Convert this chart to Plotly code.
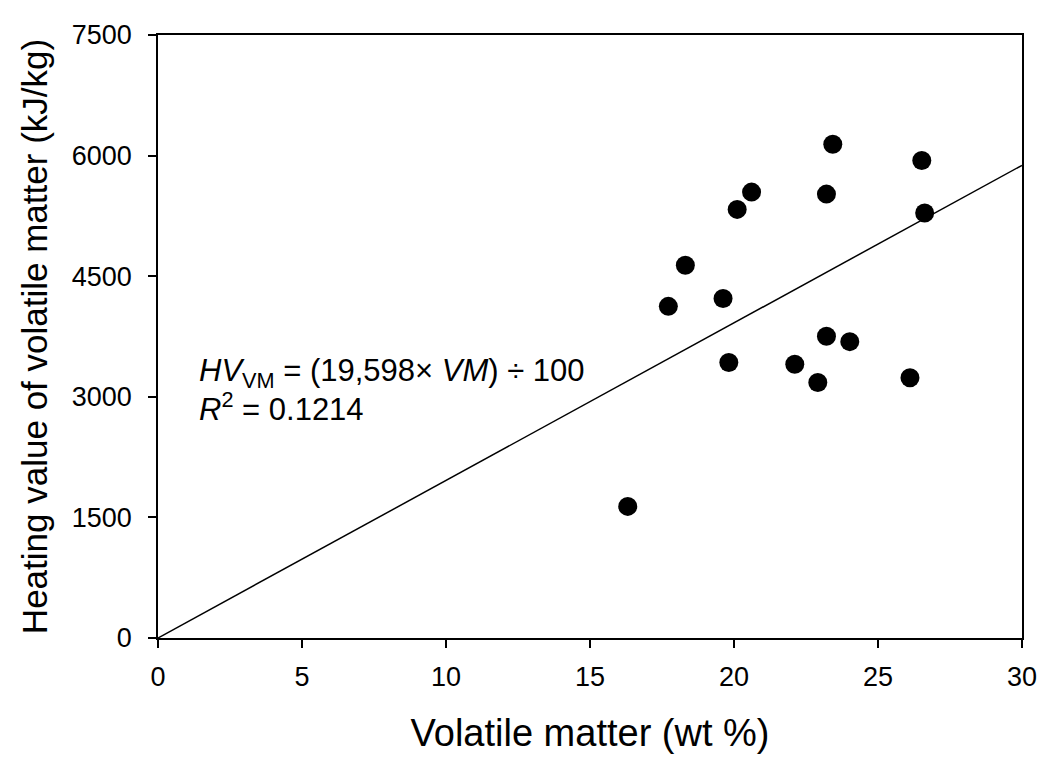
import plotly.graph_objects as go

# Data
volatile_matter = [16.31, 17.72, 18.31, 19.62, 19.82, 20.11, 20.61, 22.11, 22.91,
                   23.21, 23.21, 23.43, 24.02, 26.11, 26.52, 26.62]
heating_value = [1637, 4125, 4637, 4222, 3426, 5331, 5546, 3406, 3178,
                 3753, 5521, 6140, 3686, 3236, 5938, 5285]

fit_coef = 19598  # HV = (19,598 x VM) / 100
fit_x = [0, 30]
fit_y = [fit_coef * v / 100 for v in fit_x]

x_ticks = [0, 5, 10, 15, 20, 25, 30]
y_ticks = [0, 1500, 3000, 4500, 6000, 7500]

FONT = "Liberation Sans, Arial, sans-serif"

fig = go.Figure()
fig.add_trace(go.Scatter(x=fit_x, y=fit_y, mode="lines",
                         line=dict(color="black", width=1.5), showlegend=False))
fig.add_trace(go.Scatter(x=volatile_matter, y=heating_value, mode="markers",
                         marker=dict(color="black", size=19), showlegend=False))

fig.add_annotation(x=1.35, y=3290, xref="x", yref="y", xanchor="left", yanchor="middle",
                   align="left", showarrow=False,
                   text="<i>HV</i><sub>VM</sub> = (19,598× <i>VM</i>) ÷ 100",
                   font=dict(family=FONT, size=31, color="black"))
fig.add_annotation(x=1.35, y=2870, xref="x", yref="y", xanchor="left", yanchor="middle",
                   align="left", showarrow=False,
                   text="<i>R</i><sup>2</sup> = 0.1214",
                   font=dict(family=FONT, size=31, color="black"))

fig.update_layout(
    width=1041, height=754,
    margin=dict(l=150, r=22, t=25, b=124),
    plot_bgcolor="white", paper_bgcolor="white",
    font=dict(family=FONT, color="black"),
)
fig.update_xaxes(range=[0, 30], tickvals=x_ticks, ticks="outside", ticklen=8, tickwidth=1.5,
                 tickcolor="black", showline=True, linecolor="black", linewidth=1.5,
                 mirror=True, showgrid=False, zeroline=False,
                 ticklabelstandoff=6,
                 tickfont=dict(family=FONT, size=27, color="black"),
                 title=dict(text="Volatile matter (wt %)", font=dict(family=FONT, size=38, color="black"),
                            standoff=28))
fig.update_yaxes(range=[0, 7500], tickvals=y_ticks, ticks="outside", ticklen=8, tickwidth=1.5,
                 tickcolor="black", showline=True, linecolor="black", linewidth=1.5,
                 mirror=True, showgrid=False, zeroline=False,
                 ticklabelstandoff=11,
                 tickfont=dict(family=FONT, size=27, color="black"),
                 title=dict(text="Heating value of volatile matter (kJ/kg)",
                            font=dict(family=FONT, size=35, color="black"), standoff=14))

fig.write_html("out.html")
